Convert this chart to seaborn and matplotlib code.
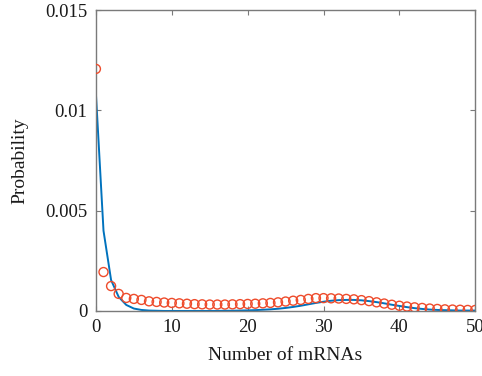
import numpy as np
import pandas as pd
import matplotlib
matplotlib.use("Agg")
import matplotlib.pyplot as plt
import seaborn as sns

# Number of mRNAs (0..50)
n_mrna = list(range(51))

# Simulated distribution (circles)
sim_prob = [
    0.01207, 0.00194, 0.00124, 0.00085, 0.00065, 0.00060, 0.00055, 0.00048, 0.00045, 0.00042,
    0.00040, 0.00038, 0.00036, 0.00034, 0.00033, 0.00032, 0.00032, 0.00032, 0.00033, 0.00034,
    0.00035, 0.00036, 0.00038, 0.00040, 0.00043, 0.00047, 0.00051, 0.00055, 0.00060, 0.00064,
    0.00064, 0.00063, 0.00062, 0.00060, 0.00058, 0.00054, 0.00049, 0.00043, 0.00037, 0.00031,
    0.00026, 0.00022, 0.00018, 0.00015, 0.00012, 0.00010, 0.00008, 0.00007, 0.00006, 0.00005,
    0.00005,
]

# Theoretical distribution (line)
theory_prob = [
    0.01083, 0.00400, 0.00154, 0.00070, 0.00030, 0.00012, 0.00005, 0.00002, 0.00001, 0.00000,
    0.00000, 0.00000, 0.00000, 0.00000, 0.00000, 0.00000, 0.00000, 0.00001, 0.00001, 0.00002,
    0.00003, 0.00004, 0.00006, 0.00008, 0.00011, 0.00015, 0.00020, 0.00026, 0.00033, 0.00040,
    0.00046, 0.00051, 0.00054, 0.00055, 0.00055, 0.00053, 0.00049, 0.00044, 0.00038, 0.00031,
    0.00025, 0.00019, 0.00014, 0.00010, 0.00007, 0.00005, 0.00004, 0.00003, 0.00002, 0.00002,
    0.00002,
]

x_ticks = [0, 10, 20, 30, 40, 50]
y_ticks = [0, 0.005, 0.01, 0.015]
y_tick_labels = ["0", "0.005", "0.01", "0.015"]

df = pd.DataFrame({"n": n_mrna, "sim": sim_prob, "theory": theory_prob})

sns.set_theme(style="white")
plt.rcParams["font.family"] = ["Liberation Serif", "DejaVu Serif"]

fig = plt.figure(figsize=(4.82, 3.76), dpi=100)
ax = fig.add_axes([0.199, 0.173, 0.787, 0.800])

sns.lineplot(data=df, x="n", y="theory", ax=ax, color="#0072BD", linewidth=1.4)
sns.scatterplot(data=df, x="n", y="sim", ax=ax, marker="o", s=42,
                facecolor="none", edgecolor="#EE4B2B", linewidth=1.0, zorder=3)

ax.set_xlim(0, 50)
ax.set_ylim(0, 0.015)
ax.set_xticks(x_ticks)
ax.set_yticks(y_ticks)
ax.set_yticklabels(y_tick_labels)

spine_color = "#7a7a7a"
for sp in ax.spines.values():
    sp.set_visible(True)
    sp.set_color(spine_color)
    sp.set_linewidth(1.0)

ax.tick_params(axis="both", which="both", direction="in", length=3.5, width=0.8,
               color=spine_color, top=True, right=True, bottom=True, left=True,
               labelsize=13.5, labelcolor="#1a1a1a", pad=6)

ax.set_xlabel("Number of mRNAs", fontsize=14, color="#1a1a1a", labelpad=8)
ax.set_ylabel("Probability", fontsize=14, color="#1a1a1a", labelpad=12)

fig.savefig("out.png", dpi=100)
